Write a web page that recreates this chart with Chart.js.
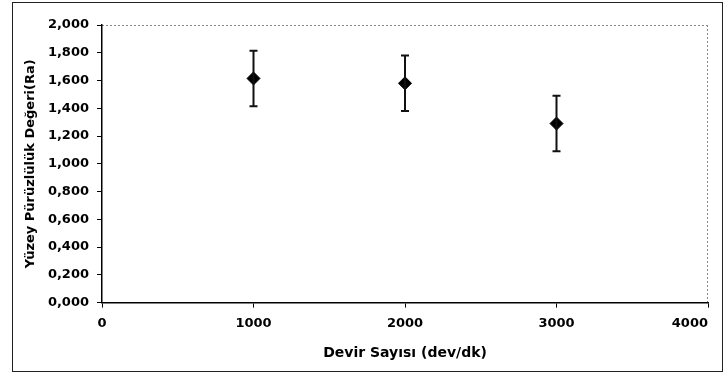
<!DOCTYPE html>
<html>
<head>
<meta charset="utf-8">
<script src="https://cdn.jsdelivr.net/npm/chart.js@4/dist/chart.umd.min.js"></script>
<style>
  html, body { margin: 0; padding: 0; background: #fff; }
  #wrap { width: 726px; height: 376px; position: relative; }
</style>
</head>
<body>
<div id="wrap"><canvas id="roughChart"></canvas></div>
<script>
// values
const speeds = [1000, 2000, 3000];          // Devir Sayısı (dev/dk)
const roughness = [1.615, 1.580, 1.290];    // Ra
const errors = [0.200, 0.200, 0.200];       // +/- error bar
const xTicks = [0, 1000, 2000, 3000, 4000];

const trNumber = v => v.toFixed(3).replace('.', ',');

// draws the vertical error bars through the chart scales
const errorBars = {
  id: 'errorBars',
  afterDatasetsDraw(chart) {
    const ctx = chart.ctx;
    const xs = chart.scales.x, ys = chart.scales.y;
    ctx.save();
    ctx.strokeStyle = '#111';
    ctx.lineWidth = 2;
    speeds.forEach((s, i) => {
      const px = xs.getPixelForValue(s);
      const top = ys.getPixelForValue(roughness[i] + errors[i]);
      const bot = ys.getPixelForValue(roughness[i] - errors[i]);
      ctx.beginPath();
      ctx.moveTo(px, top); ctx.lineTo(px, bot);
      ctx.moveTo(px - 4, top); ctx.lineTo(px + 4, top);
      ctx.moveTo(px - 4, bot); ctx.lineTo(px + 4, bot);
      ctx.stroke();
    });
    ctx.restore();
  }
};

// outer box and the dotted top/right frame of the plot area
const frame = {
  id: 'frame',
  beforeDraw(chart) {
    const ctx = chart.ctx;
    const a = chart.chartArea;
    ctx.save();
    ctx.strokeStyle = '#222';
    ctx.lineWidth = 1;
    ctx.strokeRect(12.5, 2.5, 710, 369);
    ctx.strokeStyle = '#888';
    ctx.setLineDash([2, 2]);
    ctx.beginPath();
    ctx.moveTo(a.left, a.top + 0.5); ctx.lineTo(a.right, a.top + 0.5);
    ctx.moveTo(a.right - 0.5, a.top); ctx.lineTo(a.right - 0.5, a.bottom);
    ctx.stroke();
    ctx.restore();
  }
};

const tickFont = { family: 'DejaVu Sans', weight: 'bold', size: 13 };

const ctx = document.getElementById('roughChart').getContext('2d');
const roughChart = new Chart(ctx, {
  type: 'scatter',
  data: {
    datasets: [{
      label: 'Ra',
      data: speeds.map((s, i) => ({ x: s, y: roughness[i] })),
      pointStyle: 'rectRot',
      pointRadius: 6.5,
      backgroundColor: '#000',
      borderColor: '#000',
      borderWidth: 1
    }]
  },
  options: {
    responsive: true,
    maintainAspectRatio: false,
    animation: false,
    layout: { padding: { left: 14, top: 25, right: 0, bottom: 14 } },
    plugins: { legend: { display: false }, tooltip: { enabled: false } },
    scales: {
      x: {
        type: 'linear',
        min: 0,
        max: 4000,
        afterBuildTicks: axis => { axis.ticks = xTicks.map(v => ({ value: v })); },
        afterFit: axis => { axis.paddingRight = 18; },
        grid: { display: true, drawOnChartArea: false, tickLength: 5, color: '#000' },
        border: { color: '#000', width: 1.5 },
        ticks: {
          color: '#000',
          padding: 8,
          maxRotation: 0,
          font: tickFont,
          // last label sits left of its tick, as in the original
          callback: v => v === 4000 ? '4000\u2007\u2007\u2007\u2007' : String(v)
        },
        title: {
          display: true,
          text: 'Devir Sayısı (dev/dk)',
          color: '#000',
          padding: { top: 6, bottom: 0 },
          font: { family: 'DejaVu Sans', weight: 'bold', size: 14 }
        }
      },
      y: {
        min: 0,
        max: 2,
        afterFit: axis => { axis.width = 88; },
        grid: { display: true, drawOnChartArea: false, tickLength: 5, color: '#000' },
        border: { color: '#000', width: 1.5 },
        ticks: {
          stepSize: 0.2,
          color: '#000',
          padding: 8,
          font: tickFont,
          callback: v => trNumber(v)
        },
        title: {
          display: true,
          text: 'Yüzey Pürüzlülük Değeri(Ra)',
          color: '#000',
          padding: { top: 9, bottom: 0 },
          font: { family: 'DejaVu Sans', weight: 'bold', size: 13 }
        }
      }
    }
  },
  plugins: [frame, errorBars]
});
</script>
</body>
</html>
